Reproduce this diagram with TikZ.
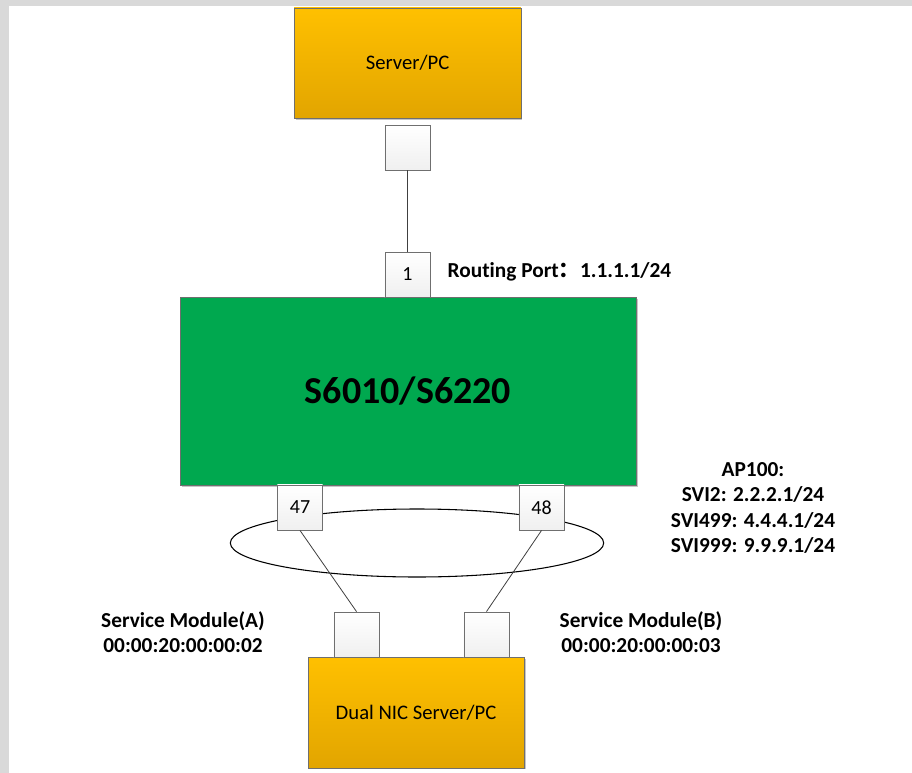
\documentclass[tikz,border=0pt]{standalone}
\usepackage{fontspec}
\setmainfont{Carlito}[Ligatures=CommonOff]
\newfontfamily\cjk{Noto Sans CJK SC}
\usetikzlibrary{shadows,shapes.geometric}
\definecolor{hosttop}{HTML}{FFC000}
\definecolor{hostbot}{HTML}{E2A500}
\definecolor{swgreen}{HTML}{00A84F}
\definecolor{edgegray}{HTML}{6F6F6F}
\definecolor{framegray}{HTML}{D9D9D9}

\begin{document}
\begin{tikzpicture}[x=0.75pt, y=-0.75pt,                 % one unit = one pixel of the sketch
      shade/.style={drop shadow={shadow xshift=1.2pt, shadow yshift=-1.2pt, opacity=0.45}},
      host/.style={draw=edgegray, top color=hosttop, bottom color=hostbot, shade,
                   font=\fontsize{15.5}{18}\selectfont},  % orange end stations
      switch/.style={draw=edgegray, fill=swgreen, shade, minimum width=342pt, minimum height=141pt,
                   font=\bfseries\fontsize{28.5}{32}\selectfont},
      port/.style={draw=edgegray, top color=white, bottom color=gray!12, minimum width=34pt,
                   minimum height=34pt, inner sep=0pt, font=\fontsize{15}{17}\selectfont},
      lbl/.style={align=center, font=\bfseries\fontsize{16}{18.8}\selectfont},
      link/.style={draw=black!75, line width=0.6pt}]
    \useasboundingbox (0,0) rectangle (912,773);
    \fill[white] (0,0) rectangle (912,773);
    \fill[framegray] (0,0) rectangle (9,773);              % grey frame, left
    \fill[framegray] (0,0) rectangle (912,6);              % grey frame, top

    \node[host, minimum width=170pt, minimum height=82.5pt] (srv) at (407.5,63) {Server/PC};
    \node[switch] (sw) at (408,391) {S6010/S6220};
    \node[host, minimum width=162pt, minimum height=83pt] (dual) at (416,712.5) {Dual NIC Server/PC};

    \node[draw, line width=0.8pt, ellipse, minimum width=280pt, minimum height=51pt] (agg) at (417,543) {};

    \node[port] (psrv) at (407.5,147.5) {};
    \node[port] (p1) at (407.5,274.5) {1};
    \node[port] (p47) at (300,507.5) {47};
    \node[port] (p48) at (541.5,507.5) {48};
    \node[port] (nicA) at (356.5,634.5) {};
    \node[port] (nicB) at (486.5,634.5) {};

    \draw[link] (psrv) -- (p1);                            % uplink to the routing port
    \draw[link] (p47.south) -- (nicA.north);               % member A
    \draw[link] (p48.south) -- (nicB.north);               % member B

    \node[lbl, anchor=west] (rport) at (443,272) {Routing Port{\cjk ：}1.1.1.1/24};
    \node[lbl] (svi) at (753,508) {AP100:\\SVI2: 2.2.2.1/24\\SVI499: 4.4.4.1/24\\SVI999: 9.9.9.1/24};
    \node[lbl] (smA) at (183,632) {Service Module(A)\\00:00:20:00:00:02};
    \node[lbl] (smB) at (641,632) {Service Module(B)\\00:00:20:00:00:03};
  \end{tikzpicture}
\end{document}
